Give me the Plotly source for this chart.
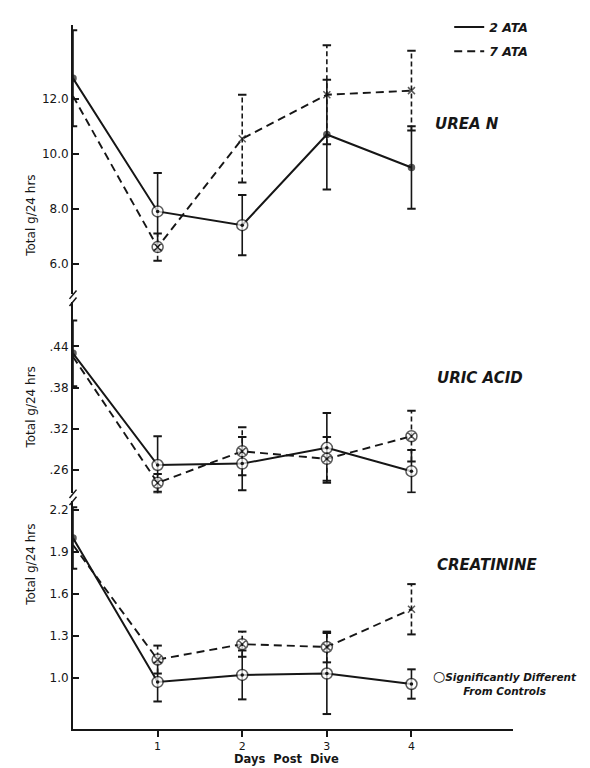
import plotly.graph_objects as go

# ---------------- data ----------------
days = [0, 1, 2, 3, 4]
day_labels = ["1", "2", "3", "4"]
day_ticks = [1, 2, 3, 4]

urea_2 = [12.75, 7.9, 7.4, 10.7, 9.5]
urea_2_err = [1.75, 1.4, 1.1, 2.0, 1.5]
urea_2_sig = [0, 1, 1, 0, 0]
urea_7 = [12.1, 6.6, 10.55, 12.15, 12.3]
urea_7_err = [0, 0.5, 1.6, 1.8, 1.45]
urea_7_sig = [0, 1, 0, 0, 0]

uric_2 = [0.43, 0.267, 0.269, 0.292, 0.258]
uric_2_err = [0.048, 0.042, 0.039, 0.051, 0.031]
uric_2_sig = [0, 1, 1, 1, 1]
uric_7 = [0.425, 0.241, 0.287, 0.276, 0.309]
uric_7_err = [0, 0.013, 0.035, 0.032, 0.037]
uric_7_sig = [0, 1, 1, 1, 1]

creat_2 = [2.0, 0.97, 1.02, 1.03, 0.955]
creat_2_err = [0.22, 0.14, 0.175, 0.29, 0.105]
creat_2_sig = [0, 1, 1, 1, 1]
creat_7 = [1.95, 1.13, 1.24, 1.22, 1.49]
creat_7_err = [0, 0.10, 0.09, 0.11, 0.18]
creat_7_sig = [0, 1, 1, 1, 0]

urea_ticks = [6, 8, 10, 12]
urea_ticktext = ["6.0", "8.0", "10.0", "12.0"]
uric_ticks = [0.26, 0.32, 0.38, 0.44]
uric_ticktext = [".26", ".32", ".38", ".44"]
creat_ticks = [1.0, 1.3, 1.6, 1.9, 2.2]
creat_ticktext = ["1.0", "1.3", "1.6", "1.9", "2.2"]

panel_names = ["UREA N", "URIC ACID", "CREATININE"]
series_names = ["2 ATA", "7 ATA"]

# ---------------- styling ----------------
INK = "#161616"
FONT = "DejaVu Sans"
CAP = 0.05

fig = go.Figure()


def error_traces(x, y, e, yaxis, dash):
    vx, vy, cx, cy = [], [], [], []
    for xi, yi, ei in zip(x, y, e):
        if ei <= 0:
            continue
        vx += [xi, xi, None]
        vy += [yi - ei, yi + ei, None]
        for yy in (yi - ei, yi + ei):
            cx += [xi - CAP, xi + CAP, None]
            cy += [yy, yy, None]
    fig.add_trace(go.Scatter(x=vx, y=vy, mode="lines", yaxis=yaxis, showlegend=False,
                             hoverinfo="skip", line=dict(color=INK, width=1.6, dash=dash)))
    fig.add_trace(go.Scatter(x=cx, y=cy, mode="lines", yaxis=yaxis, showlegend=False,
                             hoverinfo="skip", line=dict(color=INK, width=2)))


def marker_trace(x, y, sig, yaxis, kind):
    xs, ys, sym, col, size = [], [], [], [], []
    dx, dy = [], []
    for i, (xi, yi, si) in enumerate(zip(x, y, sig)):
        if kind == "2":
            if si:
                sym.append("circle"); col.append("white"); size.append(11)
                dx.append(xi); dy.append(yi)
            else:
                sym.append("circle"); col.append(INK); size.append(6)
        else:
            if i == 0:
                continue
            if si:
                sym.append("circle-x"); col.append("white"); size.append(11)
            else:
                sym.append("x-thin-open"); col.append(INK); size.append(7)
        xs.append(xi); ys.append(yi)
    fig.add_trace(go.Scatter(x=xs, y=ys, mode="markers", yaxis=yaxis, showlegend=False,
                             marker=dict(symbol=sym, color=col, size=size,
                                         line=dict(color=INK, width=1.5))))
    if dx:
        fig.add_trace(go.Scatter(x=dx, y=dy, mode="markers", yaxis=yaxis, showlegend=False,
                                 marker=dict(symbol="circle", color=INK, size=3.5,
                                             line=dict(width=0))))


panels = [
    ("y", urea_2, urea_2_err, urea_2_sig, urea_7, urea_7_err, urea_7_sig),
    ("y2", uric_2, uric_2_err, uric_2_sig, uric_7, uric_7_err, uric_7_sig),
    ("y3", creat_2, creat_2_err, creat_2_sig, creat_7, creat_7_err, creat_7_sig),
]

for k, (ya, v2, e2, s2, v7, e7, s7) in enumerate(panels):
    error_traces(days, v2, e2, ya, "solid")
    error_traces(days, v7, e7, ya, "5px,3px")
    fig.add_trace(go.Scatter(x=days, y=v2, mode="lines", yaxis=ya,
                             name="<b><i>" + series_names[0] + "</i></b>",
                             legendgroup="a", showlegend=(k == 0),
                             line=dict(color=INK, width=2)))
    fig.add_trace(go.Scatter(x=days, y=v7, mode="lines", yaxis=ya,
                             name="<b><i>" + series_names[1] + "</i></b>",
                             legendgroup="b", showlegend=(k == 0),
                             line=dict(color=INK, width=1.9, dash="8px,5px")))
    marker_trace(days, v2, s2, ya, "2")
    marker_trace(days, v7, s7, ya, "7")

tickfont = dict(family=FONT, size=12, color=INK)
yax_common = dict(anchor="x", showline=True, linecolor=INK, linewidth=2, ticks="inside",
                  ticklen=6, tickwidth=1.5, tickcolor=INK, showgrid=False, zeroline=False,
                  tickfont=tickfont)

fig.update_layout(
    width=590, height=768,
    margin=dict(l=73, r=77, t=15, b=39),
    paper_bgcolor="white", plot_bgcolor="white",
    font=dict(family=FONT, color=INK),
    xaxis=dict(domain=[0, 1], range=[0, 5.2], anchor="y3", showline=True, linecolor=INK,
               linewidth=2, ticks="outside", ticklen=6, tickwidth=1.5, tickcolor=INK,
               tickvals=day_ticks, ticktext=day_labels, showgrid=False, zeroline=False,
               tickfont=dict(family=FONT, size=11, color=INK)),
    yaxis=dict(domain=[0.6176, 1], range=[4.885, 14.69], tickvals=urea_ticks,
               ticktext=urea_ticktext, **yax_common),
    yaxis2=dict(domain=[0.3347, 0.6064], range=[0.2256, 0.5047], tickvals=uric_ticks,
                ticktext=uric_ticktext, **yax_common),
    yaxis3=dict(domain=[0, 0.3235], range=[0.633, 2.263], tickvals=creat_ticks,
                ticktext=creat_ticktext, **yax_common),
    legend=dict(x=0.855, y=1.018, xanchor="left", yanchor="top", bgcolor="rgba(0,0,0,0)",
                font=dict(family=FONT, size=12.5, color=INK), tracegroupgap=5),
    showlegend=True,
)

# panel labels
label_pos = [(0.818, 0.860), (0.823, 0.4986), (0.823, 0.2325)]
for name, (px, py) in zip(panel_names, label_pos):
    fig.add_annotation(x=px, y=py, xref="paper", yref="paper", xanchor="left",
                       yanchor="middle", showarrow=False, text="<b><i>" + name + "</i></b>",
                       font=dict(family=FONT, size=15, color=INK))

# y titles
for py in (0.790, 0.4566, 0.172):
    fig.add_annotation(x=-0.116, y=py, xref="paper", yref="paper", showarrow=False,
                       textangle=-90, text="Total g/24 hrs",
                       font=dict(family=FONT, size=12, color=INK))

# x title
fig.add_annotation(x=0.485, y=-0.042, xref="paper", yref="paper", showarrow=False,
                   yanchor="middle", text="<b>Days  Post  Dive</b>",
                   font=dict(family=FONT, size=11.5, color=INK))

# significance note
fig.add_annotation(x=0.982, y=0.0658, xref="paper", yref="paper", showarrow=False,
                   xanchor="center", yanchor="middle", align="center",
                   text="<b><i><span style='font-size:14px'>○</span>Significantly Different<br>From Controls</i></b>",
                   font=dict(family=FONT, size=10.5, color=INK))

# axis break marks
for yb in (0.612, 0.329):
    for dy in (-0.005, 0.005):
        fig.add_shape(type="line", xref="paper", yref="paper",
                      x0=-0.008, x1=0.008, y0=yb + dy - 0.006, y1=yb + dy + 0.006,
                      line=dict(color=INK, width=1.5))

fig.write_html("out.html")
